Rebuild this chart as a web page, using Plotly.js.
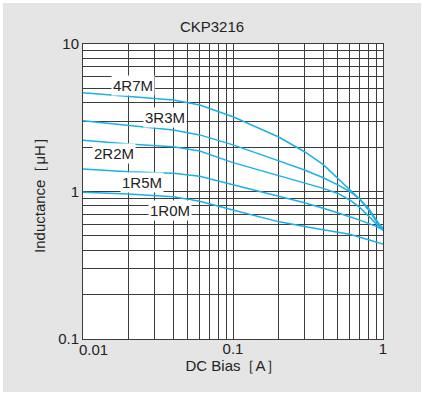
<!DOCTYPE html>
<html>
<head>
<meta charset="utf-8">
<script src="https://cdn.plot.ly/plotly-3.0.1.min.js"></script>
<style>
html,body{margin:0;padding:0;background:#ffffff;}
#chart{position:absolute;left:3px;top:3px;width:418px;height:389px;}
</style>
</head>
<body>
<div id="chart"></div>
<script>
// DC bias current [A]
const dcBias = [0.01, 0.02, 0.04, 0.06, 0.1, 0.2, 0.3, 0.4, 0.5, 0.6, 0.7, 0.8, 0.9, 1];
// Inductance [uH] per part
const seriesNames = ["4R7M", "3R3M", "2R2M", "1R5M", "1R0M"];
const ind4R7M = [4.67, 4.39, 4.17, 3.86, 3.21, 2.35, 1.86, 1.52, 1.22, 1.02, 0.885, 0.75, 0.63, 0.565];
const ind3R3M = [3.02, 2.82, 2.61, 2.42, 2.07, 1.62, 1.40, 1.24, 1.11, 1.0, 0.89, 0.77, 0.65, 0.55];
const ind2R2M = [2.23, 2.10, 2.01, 1.88, 1.57, 1.28, 1.14, 1.05, 0.97, 0.876, 0.78, 0.68, 0.6, 0.545];
const ind1R5M = [1.42, 1.36, 1.33, 1.27, 1.11, 0.935, 0.84, 0.77, 0.72, 0.675, 0.64, 0.61, 0.58, 0.55];
const ind1R0M = [0.99, 0.96, 0.92, 0.86, 0.75, 0.625, 0.58, 0.548, 0.53, 0.513, 0.49, 0.474, 0.458, 0.44];
const seriesValues = [ind4R7M, ind3R3M, ind2R2M, ind1R5M, ind1R0M];
// label anchor positions (data coords)
const labelX = [0.0215, 0.0353, 0.0162, 0.0247, 0.0381];
const labelY = [5.27, 3.18, 1.80, 1.148, 0.741];

const xTicks = [0.01, 0.1, 1];
const xTickText = ["0.01", "0.1", "1"];
const yTicks = [0.1, 1, 10];
const yTickText = ["0.1", "1", "10"];

function minorVals(lo, hi){
  const out = [];
  for (let d = lo; d < hi; d *= 10) for (let k = 2; k <= 9; k++) out.push(+(d*k).toPrecision(3));
  return out;
}

const lineColor = "#1ab0ea";
const gridColor = "#3c3c3c";
const font = {family: "Liberation Sans, Arial, sans-serif", size: 15, color: "#222"};

const traces = seriesValues.map((v, i) => ({
  x: dcBias, y: v, type: "scatter", mode: "lines", name: seriesNames[i],
  line: {color: lineColor, width: 1.5},
  hoverinfo: "skip"
}));

const annotations = seriesNames.map((n, i) => ({
  x: Math.log10(labelX[i]), y: Math.log10(labelY[i]), xref: "x", yref: "y",
  text: n, showarrow: false, bgcolor: "#ffffff", borderpad: 1,
  font: font
}));
// first x tick label drawn shifted right (as in the reference) so it clears "0.1" of the y axis
annotations.push({
  x: Math.log10(xTicks[0]), y: 0, xref: "x", yref: "paper",
  text: xTickText[0], showarrow: false, xanchor: "left", yanchor: "middle",
  xshift: -6, yshift: -10, font: font
});

const layout = {
  width: 418, height: 389,
  paper_bgcolor: "#e5e5e5", plot_bgcolor: "#ffffff",
  margin: {l: 80, r: 38, t: 41, b: 53},
  showlegend: false,
  font: font,
  title: {text: "CKP3216", font: font, x: 0.5, xanchor: "center", y: 0.999, yanchor: "top", yref: "container", pad: {t: 18}},
  xaxis: {
    type: "log", range: [-2, 0], tickvals: xTicks,
    ticktext: xTickText.map((t, i) => i === 0 ? " " : t),
    showgrid: true, gridcolor: gridColor, gridwidth: 1,
    showline: true, linecolor: gridColor, linewidth: 1, mirror: true,
    ticks: "", zeroline: false, ticklabelstandoff: -4,
    minor: {tickvals: minorVals(0.01, 1), showgrid: true, gridcolor: gridColor, gridwidth: 1, ticks: ""},
    title: {text: "DC Bias［A］", font: font, standoff: 2},
    fixedrange: true
  },
  yaxis: {
    type: "log", range: [-1, 1], tickvals: yTicks, ticktext: yTickText,
    showgrid: true, gridcolor: gridColor, gridwidth: 1,
    showline: true, linecolor: gridColor, linewidth: 1, mirror: true,
    ticks: "", zeroline: false,
    minor: {tickvals: minorVals(0.1, 10), showgrid: true, gridcolor: gridColor, gridwidth: 1, ticks: ""},
    title: {text: "Inductance［μH］", font: font, standoff: 8},
    fixedrange: true
  },
  annotations: annotations
};

Plotly.newPlot("chart", traces, layout, {displayModeBar: false, staticPlot: true});
</script>
</body>
</html>
